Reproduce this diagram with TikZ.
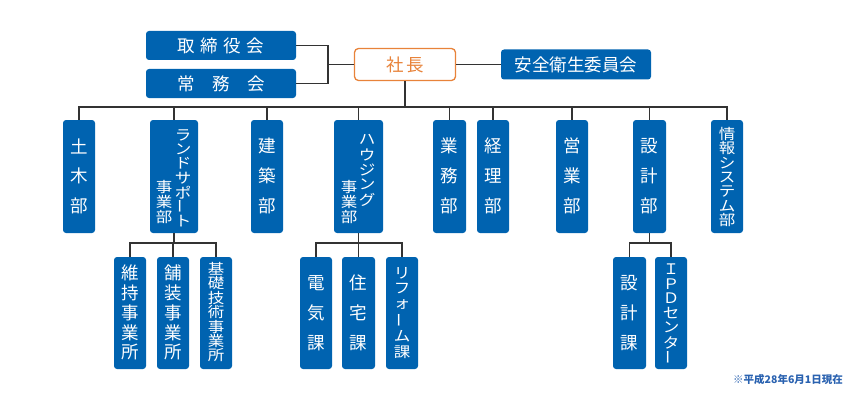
\documentclass[tikz,border=0pt]{standalone}
\usepackage{fontspec}
\setmainfont{Noto Sans CJK JP}
\definecolor{boxblue}{HTML}{0063B0}
\definecolor{orng}{HTML}{E8833A}
\definecolor{lnc}{HTML}{333333}
\definecolor{noteblue}{HTML}{2A62B0}
\newcommand\vtext[5]{%
  \foreach \ch [count=\k] in {#5} {\node[vt] (#1-\k) at (#2,{#3+(\k-1)*#4}) {\ch};}}
\newcommand\vtextd[5]{%
  \foreach \ch [count=\k] in {#5} {\node[vtd] (#1-\k) at (#2,{#3+(\k-1)*#4}) {\ch};}}
\newcommand\vbar{\rotatebox[origin=c]{90}{ー}}
\begin{document}
\begin{tikzpicture}[x=1pt,y=-1pt,
  box/.style={fill=boxblue, rounded corners=3pt, inner sep=0pt, text=white},
  dept/.style={box, minimum width=32pt, minimum height=113pt},
  sect/.style={box, minimum width=32pt, minimum height=112pt},
  vt/.style={text=white, inner sep=0pt, font=\fontsize{17.5}{17.5}\selectfont},
  vtd/.style={text=white, inner sep=0pt, font=\fontsize{16.5}{16.5}\selectfont, yscale=0.88},
  ln/.style={draw=lnc, line width=1.3pt},
]
\useasboundingbox (0,0) rectangle (849,412);

% top
\node[box, minimum width=150pt, minimum height=29pt, font=\fontsize{17.5}{17.5}\selectfont] (tori) at (221,45.5) {取\hspace{5.5pt}締\hspace{5.5pt}役\hspace{5.5pt}会};
\node[box, minimum width=150pt, minimum height=29pt, font=\fontsize{17.5}{17.5}\selectfont] (jomu) at (221,83.5) {常\hspace{17.5pt}務\hspace{17.5pt}会};
\node[draw=orng, line width=1.3pt, fill=white, rounded corners=4pt, minimum width=101pt, minimum height=32pt, inner sep=0pt, text=orng, font=\fontsize{17.5}{17.5}\selectfont] (shacho) at (405,64.5) {社\hspace{3pt}長};
\node[box, minimum width=150pt, minimum height=30pt, font=\fontsize{17.5}{17.5}\selectfont] (anzen) at (576,64.5) {安全衛生委員会};

\coordinate (brk) at (328,64.5);
\coordinate (bus) at (405,107);
\coordinate (lb) at (174,243);
\coordinate (hb) at (358.5,243);
\coordinate (sb) at (649.5,243);

% departments
\node[dept] (doboku) at (79,176.5) {};
\node[dept, minimum width=48pt] (land) at (174,176.5) {};
\node[dept] (kenchiku) at (267,176.5) {};
\node[dept, minimum width=49pt] (housing) at (358.5,176.5) {};
\node[dept, minimum width=33pt] (gyomu) at (449.5,176.5) {};
\node[dept] (keiri) at (493,176.5) {};
\node[dept] (eigyo) at (572,176.5) {};
\node[dept, minimum width=33pt] (sekkei) at (649.5,176.5) {};
\node[dept] (joho) at (727,176.5) {};

% sections
\node[sect] (iji) at (130,313) {};
\node[sect] (hoso) at (173,313) {};
\node[sect] (kiso) at (216,313) {};
\node[sect] (denki) at (316,313) {};
\node[sect, minimum width=33pt] (jutaku) at (358.5,313) {};
\node[sect] (reform) at (402,313) {};
\node[sect, minimum width=33pt] (sekkeika) at (629.5,313) {};
\node[sect] (ipd) at (671,313) {};

% texts
\vtext{t1}{79}{146}{30}{土,木,部}
\vtextd{t2a}{183}{135}{14.3}{ラ,ン,ド,サ,ポ,\vbar,ト}
\vtextd{t2b}{164}{187}{15}{事,業,部}
\vtext{t3}{267}{146}{30}{建,築,部}
\vtextd{t4a}{367}{139.5}{15}{ハ,ウ,ジ,ン,グ}
\vtextd{t4b}{349}{187}{15}{事,業,部}
\vtext{t5}{449.5}{146}{30}{業,務,部}
\vtext{t6}{493}{146}{30}{経,理,部}
\vtext{t7}{572}{146}{30}{営,業,部}
\vtext{t8}{649.5}{146}{30}{設,計,部}
\vtextd{t9}{727}{134}{14.4}{情,報,シ,ス,テ,ム,部}

\vtext{s1}{130}{273}{19.8}{維,持,事,業,所}
\vtext{s2}{173}{273}{19.8}{舗,装,事,業,所}
\vtextd{s3}{216}{269}{14.4}{基,礎,技,術,事,業,所}
\vtext{s4}{316}{283}{30}{電,気,課}
\vtext{s5}{358.5}{283}{30}{住,宅,課}
\vtextd{s6}{402}{273}{15.8}{リ,フ,ォ,\vbar,ム,課}
\vtext{s7}{629.5}{283}{30}{設,計,課}
\vtextd{s8}{671}{269}{14.7}{Ｉ,Ｐ,Ｄ,セ,ン,タ,\vbar}

% connectors
\draw[ln] (tori.east) -| (brk);
\draw[ln] (jomu.east) -| (brk);
\draw[ln] (brk) -- (shacho.west);
\draw[ln] (shacho.east) -- (anzen.west);
\draw[ln] (shacho.south) -- (bus);
\foreach \d in {doboku,land,kenchiku,housing,gyomu,keiri,eigyo,sekkei,joho}
  \draw[ln] (\d.north) |- (bus);
\draw[ln] (land.south) -- (lb);
\foreach \d in {iji,hoso,kiso} \draw[ln] (\d.north) |- (lb);
\draw[ln] (housing.south) -- (hb);
\foreach \d in {denki,jutaku,reform} \draw[ln] (\d.north) |- (hb);
\draw[ln] (sekkei.south) -- (sb);
\foreach \d in {sekkeika,ipd} \draw[ln] (\d.north) |- (sb);

\node[anchor=east, inner sep=0pt, text=noteblue, font=\fontsize{10.5}{10.5}\selectfont\bfseries] (note) at (843,379) {※平成28年6月1日現在};
\end{tikzpicture}
\end{document}
